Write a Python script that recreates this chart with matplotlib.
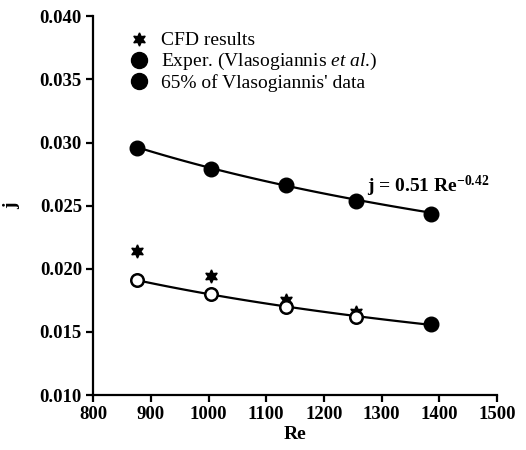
import numpy as np
import matplotlib
matplotlib.use("Agg")
import matplotlib.pyplot as plt
from matplotlib.lines import Line2D

# Data
re_vals = [876, 1004, 1134, 1256, 1386]
exper_j = [0.0296, 0.0279, 0.0266, 0.0254, 0.0243]
pct65_j = [0.0191, 0.0180, 0.0170, 0.0162, 0.0156]
cfd_re = [876, 1004, 1134, 1256]
cfd_j = [0.0214, 0.0194, 0.0175, 0.0166]
fit_coef = 0.51
fit_exp = -0.42

legend_labels = ["CFD results", r"Exper. (Vlasogiannis $\mathit{et\ al}$.)", "65% of Vlasogiannis' data"]
xticks = [800, 900, 1000, 1100, 1200, 1300, 1400, 1500]
yticks = [0.010, 0.015, 0.020, 0.025, 0.030, 0.035, 0.040]

plt.rcParams['font.family'] = ['Liberation Serif', 'DejaVu Serif']
plt.rcParams['mathtext.fontset'] = 'custom'
plt.rcParams['mathtext.rm'] = 'Liberation Serif'
plt.rcParams['mathtext.it'] = 'Liberation Serif:italic'
plt.rcParams['mathtext.bf'] = 'Liberation Serif:bold'

fig = plt.figure(figsize=(5.26, 4.5), dpi=100)
ax = fig.add_axes([0.177, 0.122, 0.768, 0.842])

# Fit lines
xs = np.linspace(re_vals[0], re_vals[-1], 50)
ax.plot(xs, fit_coef * xs ** fit_exp, color='black', lw=1.6, zorder=2)
p = np.polyfit(np.log(re_vals), np.log(pct65_j), 1)
ax.plot(xs, np.exp(np.polyval(p, np.log(xs))), color='black', lw=1.6, zorder=2)

# CFD stars
ax.plot(cfd_re, cfd_j, linestyle='none', marker=(6, 1, 0), markersize=9.5,
        color='black', zorder=3)
# Experimental
ax.plot(re_vals, exper_j, linestyle='none', marker='o', markersize=10.5,
        color='black', zorder=4)
# 65% data: open circles, last filled
ax.plot(re_vals[:-1], pct65_j[:-1], linestyle='none', marker='o', markersize=9,
        markerfacecolor='white', markeredgecolor='black', markeredgewidth=1.8, zorder=4)
ax.plot(re_vals[-1:], pct65_j[-1:], linestyle='none', marker='o', markersize=10.5,
        color='black', zorder=4)

ax.set_xlim(800, 1500)
ax.set_ylim(0.010, 0.040)
ax.set_xticks(xticks)
ax.set_yticks(yticks)
ax.set_xticklabels([str(t) for t in xticks], fontsize=13.5, fontweight='bold')
ax.set_yticklabels([f"{t:.3f}" for t in yticks], fontsize=13.5, fontweight='bold')
for s in ['top', 'right']:
    ax.spines[s].set_visible(False)
for s in ['left', 'bottom']:
    ax.spines[s].set_linewidth(1.6)
ax.tick_params(direction='out', length=5, width=1.6, pad=3)

ax.set_xlabel('Re', fontsize=14, fontweight='bold', labelpad=2)
ax.set_ylabel('j', fontsize=14, fontweight='bold', labelpad=14)

ax.text(1275, 0.0261, r'j = 0.51 Re$^{\mathbf{-0.42}}$', fontsize=14, fontweight='bold',
        ha='left', va='baseline')

handles = [
    Line2D([], [], linestyle='none', marker=(6, 1, 0), markersize=9.5, color='black'),
    Line2D([], [], linestyle='none', marker='o', markersize=11.5, color='black'),
    Line2D([], [], linestyle='none', marker='o', markersize=11.5, color='black'),
]
leg = ax.legend(handles, legend_labels, loc='upper left', bbox_to_anchor=(0.055, 0.995),
                frameon=False, fontsize=14, handlelength=1.0, handletextpad=0.65,
                labelspacing=0.1, borderaxespad=0.3)

fig.savefig('out.png', dpi=100)
